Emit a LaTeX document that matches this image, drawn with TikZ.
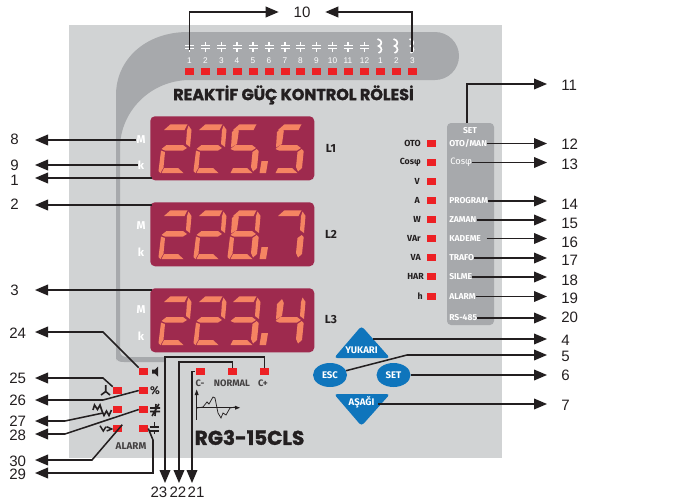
\documentclass[tikz,border=0pt]{standalone}
\usepackage{fontspec}
\setmainfont{Liberation Sans}
\newfontfamily\lbl{Fira Sans}
\newfontfamily\heavy[BoldFeatures={FakeBold=1.5}]{Poppins}
\usetikzlibrary{arrows.meta,calc,shapes.geometric}
\definecolor{panelc}{HTML}{D1D3D4}
\definecolor{bandc}{HTML}{A7A9AC}
\definecolor{dispc}{HTML}{9E2A4E}
\definecolor{segc}{HTML}{F58462}
\definecolor{ledc}{HTML}{ED2024}
\definecolor{bluec}{HTML}{0F75BC}
\definecolor{inkc}{HTML}{231F20}
\tikzset{
  arw/.style={draw=inkc,line width=1.15pt,-{Triangle[length=9.75pt,width=8pt]}},
  num/.style={font=\fontsize{11.3}{11.3}\selectfont,text=inkc,inner ysep=0pt},
  numr/.style={num,anchor=west,inner xsep=10.5pt},
  numl/.style={num,anchor=east,inner xsep=6.5pt},
  numl1/.style={num,anchor=east,inner xsep=12pt},
  numb/.style={num,anchor=north,inner xsep=0pt,inner ysep=2.5pt},
  led/.style={fill=ledc,minimum width=6.75pt,minimum height=5.25pt,inner sep=0pt},
  disp/.style={fill=dispc,rounded corners=3.5pt,minimum width=123pt,minimum height=48pt,inner sep=0pt,anchor=north west},
  plabel/.style={font=\lbl\bfseries\fontsize{6.4}{7}\selectfont,text=white,inner sep=0pt,anchor=west},
  dlabel/.style={font=\lbl\bfseries\fontsize{6.6}{7}\selectfont,text=inkc,inner sep=0pt,anchor=east},
  tnum/.style={font=\fontsize{6.2}{7}\selectfont,text=white,inner sep=0pt},
  unitl/.style={font=\lbl\bfseries\fontsize{8.5}{9}\selectfont,text=white,inner sep=0pt},
  whl/.style={draw=white,line width=1pt},
  icon/.style={draw=inkc,line width=1pt},
  btn/.style={font=\lbl\bfseries\fontsize{7.2}{8}\selectfont,text=white,inner sep=0pt},
  lowl/.style={font=\lbl\bfseries\fontsize{7}{8}\selectfont,text=inkc!85!white,inner sep=0pt},
  segA/.pic={\fill[segc] (6,6)--(12.5,0.3)--(29.5,0.3)--(26.5,6)--cycle;},
  segB/.pic={\fill[segc] (30.5,1.5)--(33.5,6)--(32,23)--(28,20)--(29,6)--cycle;},
  segC/.pic={\fill[segc] (29.7,25)--(31.7,27)--(30,44)--(26,47.5)--(24,43)--(25.5,28)--cycle;},
  segD/.pic={\fill[segc] (6,44)--(20,44)--(25.5,49)--(3.5,49)--cycle;},
  segE/.pic={\fill[segc] (3,26.5)--(7,28)--(5.5,43.5)--(2.5,49)--(0.5,47)--cycle;},
  segF/.pic={\fill[segc] (10,3)--(11.8,7)--(10,20)--(4,23.5)--(5,8)--cycle;},
  segG/.pic={\fill[segc] (3.5,25)--(8.5,21)--(25,21)--(29,24)--(25,26.5)--(7,26.5)--cycle;},
}
\newcommand\dgt[3]{\foreach \s in {#3}{\pic at (#1,#2) {seg\s};}}
\newcommand\capsym[2]{\draw[whl] (#1,#2-5)--(#1,#2-1.5) (#1-4.5,#2-1.5)--(#1+4.5,#2-1.5) (#1-4.5,#2+1.5)--(#1+4.5,#2+1.5) (#1,#2+1.5)--(#1,#2+5);}
\newcommand\coil[1]{\draw[whl,line width=1.2pt] (#1-3,39) .. controls (#1+2,40) and (#1+2,45) .. (#1-2,46) .. controls (#1+2,47) and (#1+2,52) .. (#1-2,53);}
\begin{document}
\begin{tikzpicture}[x=0.75pt,y=-0.75pt]
\useasboundingbox (0,0) rectangle (700,500);
% panel
\fill[panelc] (69,25) rectangle (502,458);
% band
\fill[bandc] (116,361) -- (116,95) .. controls (116,60) and (145,32) .. (188,32) -- (435,32)
  arc[start angle=-90,end angle=90,radius=24] -- (190,80)
  .. controls (150,80) and (120,112) .. (120,148) -- (120,350) .. controls (120,355) and (122,357) .. (127,357) -- (165,357) -- (165,362) -- (124,362) .. controls (119,362) and (116,361) .. (116,356) -- cycle;
\fill[bandc,rounded corners=3pt] (447,123) rectangle (494,325);
% title
\node[inner sep=0pt,font=\heavy\bfseries\fontsize{12}{12}\selectfont,text=inkc] (title) at (293.5,95) {REAKTİF GÜÇ KONTROL RÖLESİ};
\node[inner sep=0pt,font=\heavy\bfseries\fontsize{15}{16}\selectfont,text=inkc] (model) at (249.5,437.5) {RG3-15CLS};
% displays
\node[disp] (d1) at (150,116) {};
\node[disp] (d2) at (150,202) {};
\node[disp] (d3) at (150,288) {};
\dgt{158}{124}{A,B,G,E,D}\dgt{193}{124}{A,B,G,E,D}\dgt{227}{124}{A,F,G,C,D}\dgt{272}{124}{A,F,G,C,D}
\fill[segc] (261.5,161)--(268,161)--(266,173)--(259.5,173)--cycle;
\dgt{158}{210}{A,B,G,E,D}\dgt{193}{210}{A,B,G,E,D}\dgt{227}{210}{A,B,C,D,E,F,G}\dgt{272}{210}{A,B,C}
\fill[segc] (261.5,247)--(268,247)--(266,259)--(259.5,259)--cycle;
\dgt{158}{296}{A,B,G,E,D}\dgt{193}{296}{A,B,G,E,D}\dgt{227}{296}{A,B,G,C,D}\dgt{272}{296}{F,G,B,C}
\fill[segc] (261.5,333)--(268,333)--(266,345)--(259.5,345)--cycle;
\foreach \n/\y in {1/148,2/234,3/320}{\node[font=\lbl\bfseries\fontsize{8.8}{9}\selectfont,text=inkc,inner sep=0pt] (L\n) at (331,\y) {L\n};}
% M k
\node[unitl] (M1) at (141,140) {M}; \node[unitl] (k1) at (141,165) {k};
\node[unitl] (M2) at (141,226) {M}; \node[unitl] (k2) at (141,252) {k};
\node[unitl] (M3) at (141,310) {M}; \node[unitl] (k3) at (141,336) {k};
% top row
\foreach \i/\x/\t in {1/189.5/1,2/205.5/2,3/221.5/3,4/237/4,5/253/5,6/269/6,7/285/7,8/300.5/8,9/316.5/9,10/332.5/10,11/348/11,12/364.5/12,13/380.5/1,14/396.5/2,15/412.5/3}{
  \node[led] (t\i) at (\x,71.5) {};
  \node[tnum] (tn\i) at (\x,60.5) {\t};
}
\foreach \x in {189.5,205.5,221.5,237,253,269,285,300.5,316.5,332.5,348,364.5}{\capsym{\x}{47}}
\coil{380.5}\coil{396.5}\coil{412.5}
% right leds
\foreach \n/\y/\t/\xx in {a/143/OTO/421,b/162/Cosφ/421,c/181/V/420,d/200.5/A/420,e/219.5/W/421,f/238.5/VAr/421,g/257.5/VA/421,h/276.5/HAR/424,i/296.5/h/423}{
  \node[led] (r\n) at (431.5,\y) {};
  \node[dlabel] (rl\n) at (\xx,\y) {\t};
}
% panel labels
\node[plabel,anchor=center] (pset) at (470,131) {SET};
\node[plabel] (p12) at (449,143.5) {OTO/MAN};
\node[plabel,font=\lbl\fontsize{7}{8}\selectfont] (p13) at (450,162.5) {Cosφ};
\node[plabel] (p14) at (449,201) {PROGRAM};
\node[plabel] (p15) at (449,220) {ZAMAN};
\node[plabel] (p16) at (449,238.5) {KADEME};
\node[plabel] (p17) at (449,258) {TRAFO};
\node[plabel] (p18) at (449,277) {SILME};
\node[plabel] (p19) at (449,296.5) {ALARM};
\node[plabel] (p20) at (449,318) {RS-485};
% buttons
\fill[bluec,rounded corners=2.5pt] (361.5,326) -- (390,358) -- (334,358) -- cycle;
\fill[bluec,rounded corners=2.5pt] (361.5,426) -- (390,394) -- (334,394) -- cycle;
\node[btn] (up) at (361.5,350) {YUKARI};
\node[btn] (down) at (361.5,402.5) {AŞAĞI};
\node[fill=bluec,ellipse,minimum width=25.5pt,minimum height=18pt,inner sep=0pt] (esc) at (330,375) {};
\node[fill=bluec,ellipse,minimum width=25.5pt,minimum height=18pt,inner sep=0pt] (set) at (393.5,375) {};
\node[btn] at (esc.center) (esct) {ESC};
\node[btn] at (set.center) (sett) {SET};
% bottom leds
\node[led] (l24) at (143.5,371.5) {};
\node[led] (l25) at (117.5,390.5) {};
\node[led] (l26) at (143.5,390.5) {};
\node[led] (l27) at (117.5,409.5) {};
\node[led] (l28) at (143.5,409.5) {};
\node[led] (l30) at (117.5,428.5) {};
\node[led] (l29) at (143.5,428.5) {};
\node[led] (l21) at (200,371.5) {};
\node[led] (l22) at (232.5,371.5) {};
\node[led] (l23) at (264.5,371.5) {};
\node[lowl] (cm) at (200,383) {C-};
\node[lowl] (nm) at (232,383) {NORMAL};
\node[lowl] (cp) at (263,383) {C+};
\node[lowl,font=\lbl\bfseries\fontsize{7.4}{8}\selectfont] (al) at (131,446) {ALARM};
% icons
\fill[inkc] (152,369.5)--(155,369.5)--(158,366.5)--(158,376.5)--(155,373.5)--(152,373.5)--cycle;
\node[font=\lbl\bfseries\fontsize{8.5}{9}\selectfont,text=inkc,inner sep=0pt] (pct) at (155,391) {\%};
\draw[icon,line width=1.2pt] (150,408)--(160,408) (150,411.5)--(160,411.5) (159,404)--(152,416) (156,404)--(155,416);
\draw[icon] (154.5,422)--(154.5,427) (150,427)--(159,427) (150,431)--(159,431) (154.5,431)--(154.5,434);
\draw[icon,line width=1.2pt] (105.7,391.5)--(105.7,385) (105.7,391.5)--(101,395) (105.7,391.5)--(110,395);
\draw[icon,line width=1.2pt] (93,410)--(94.5,405)--(97.5,409.5)--(100,405)--(102,411)--(104,415.5)--(106.5,411)--(109,415.5)--(111.5,410);
\draw[icon,line width=1.1pt] (100,425.7)--(103.3,431)--(106,426.7) (106.7,426.7)--(111.7,429)--(106.7,431);
% graph
\draw[inkc,line width=0.95pt] (196.7,394)--(196.7,420);
\fill[inkc] (196.7,389.5) -- (198.7,395) -- (194.7,395) -- cycle;
\draw[inkc,line width=0.95pt] (196.7,407.7)--(236,407.7);
\fill[inkc] (240,407.7) -- (235,405.7) -- (235,409.7) -- cycle;
\draw[inkc,line width=0.55pt] (197,408) -- (203,407) -- (207,402) -- (209,404) -- (213,397) -- (215,398) -- (218,413) -- (221,418) -- (223,413) -- (226,415) -- (230,408) -- (235,407);
% labels and connectors, right
\foreach \n/\y in {11/85,12/144,13/164,14/204,15/223,16/242,17/260,18/280,19/298,20/317,4/340,5/356,6/375,7/405}{\node[numr] (n\n) at (547,\y) {\n};}
\coordinate (c11) at (467,84);
\coordinate (s11) at (467,123);
\draw[arw] (s11) -- (c11) -- (c11 -| n11.west);
\foreach \n in {12,13,14,15,17,18,19,20}{\draw[arw] (p\n.east) -- (p\n.east -| n\n.west);}
\draw[arw] ([xshift=4pt]p16.east) -- (p16.east -| n16.west);
\coordinate (s4) at (373,339);
\draw[arw] (s4) -- (s4 -| n4.west);
\coordinate (c5) at (407,355);
\draw[arw] (esc.15) -- (c5) -- (c5 -| n5.west);
\draw[arw] (set.east) -- (set.east -| n6.west);
\coordinate (s7) at (378,404);
\draw[arw] (s7) -- (s7 -| n7.west);
% top 10
\node[num,inner xsep=11pt] (n10) at (302,12) {10};
\coordinate (s10a) at (189.5,50); \coordinate (s10b) at (412,52);
\draw[arw] (s10a) |- (n10.west);
\draw[arw] (s10b) |- (n10.east);
% left
\foreach \n/\y in {8/139,9/165,1/180,2/204,3/290}{\node[numl1] (n\n) at (35,\y) {\n};}
\foreach \n/\y in {24/333,25/378,26/400,27/421,28/435,30/461,29/474}{\node[numl] (n\n) at (35,\y) {\n};}
\draw[arw] (M1.west) -- (M1.west -| n8.east);
\draw[arw] (k1.west) -- (k1.west -| n9.east);
\coordinate (s1) at (152,178); \draw[arw] (s1) -- (s1 -| n1.east);
\coordinate (s2) at (152,205); \draw[arw] (s2) -- (s2 -| n2.east);
\coordinate (s3) at (152,290); \draw[arw] (s3) -- (s3 -| n3.east);
\coordinate (c24) at (103,332); \draw[arw] (l24.north west) -- (c24) -- (c24 -| n24.east);
\coordinate (c25) at (103,378); \draw[arw] (l25.north west) -- (c25) -- (c25 -| n25.east);
\coordinate (c26) at (103,400); \draw[arw] (l26.west) -- (c26) -- (c26 -| n26.east);
\coordinate (s27) at (103,413); \coordinate (c27) at (65,421); \draw[arw] (s27) -- (c27) -- (c27 -| n27.east);
\coordinate (c28) at (65,434); \draw[arw] (l28.west) -- (c28) -- (c28 -| n28.east);
\coordinate (c30) at (92,460); \draw[arw] (l30.north east) -- (c30) -- (c30 -| n30.east);
\coordinate (c29a) at (153,440); \coordinate (c29b) at (153,473);
\draw[arw] (l29.east) -- (c29a) -- (c29b) -- (c29b -| n29.east);
% bottom
\node[numb] (n23) at (159,483) {23};
\node[numb] (n22) at (178,483) {22};
\node[numb] (n21) at (196,483) {21};
\coordinate (c23) at (165,357); \draw[arw] (l23.north) |- (c23) -- (c23 |- n23.north);
\coordinate (c22) at (179,362); \draw[arw] (l22.north) |- (c22) -- (c22 |- n22.north);
\coordinate (c21) at (192,371.5); \draw[arw] (l21.west) -- (c21) -- (c21 |- n21.north);
\end{tikzpicture}
\end{document}
